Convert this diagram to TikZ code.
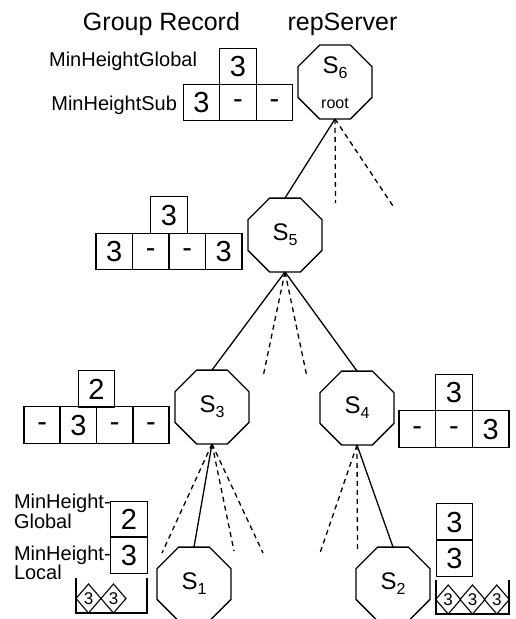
\documentclass[tikz,border=0pt]{standalone}
\usepackage{fontspec}
\setmainfont{Liberation Sans}
\usetikzlibrary{shapes.geometric}

\newcommand\fsz[1]{\fontsize{#1}{#1}\selectfont}
\newcommand\srvname[1]{S\raisebox{-5pt}{\fsz{16}#1}}
% an empty entry of a record: a dash lifted to mid-cell
\newcommand\nil{\raisebox{4.3pt}{-}}

\begin{document}
\begin{tikzpicture}[x=1pt,y=-1pt,
  every node/.style={inner sep=0pt, outer sep=0pt},
  title/.style={font=\fsz{25}, anchor=base},
  lbl/.style={font=\fsz{20}},
  cell/.style={draw, line width=1.4pt, minimum width=36.5pt, minimum height=36.5pt,
               font=\fsz{29}, text height=20.8pt, text depth=0pt},
  server/.style={draw, line width=1.4pt, regular polygon, regular polygon sides=8,
                 minimum size=80pt, font=\fsz{24}},
  token/.style={draw, diamond, line width=1.1pt, minimum width=25pt, minimum height=29pt,
                font=\fsz{17}},
  link/.style={line width=1.3pt},
  hint/.style={line width=1.3pt, dash pattern=on 5pt off 4pt},
  wall/.style={line width=1.4pt}
]
\useasboundingbox (0,0) rectangle (515,619);

% headings
\node[title] (hrec) at (161.5,30) {Group Record};
\node[title] (hsrv) at (342.5,30) {repServer};

% ---- servers ----
\node[server] (s6) at (335,82) {};
\node[font=\fsz{24}] (s6name) at (335,68) {\srvname{6}};
\node[font=\fsz{16}] (s6root) at (335,103) {root};
\node[server] (s5) at (285,235) {\srvname{5}};
\node[server] (s3) at (212,407) {\srvname{3}};
\node[server] (s4) at (357,408) {\srvname{4}};
\node[server] (s1) at (194,584) {\srvname{1}};
\node[server] (s2) at (393,584) {\srvname{2}};

% ---- tree links ----
\draw[link] (s6.south) -- (s5.north);
\draw[link] (s5.south) -- (s3.north);
\draw[link] (s5.south) -- (s4.north);
\draw[link] (s3.south) -- (s1.north);
\draw[link] (s4.south) -- (s2.north);

% other children, not drawn
\coordinate (d6a) at (335.5,203);
\coordinate (d6b) at (393,206);
\coordinate (d5a) at (263,377);
\coordinate (d5b) at (307,377);
\coordinate (d3a) at (162,553);
\coordinate (d3b) at (234,551);
\coordinate (d3c) at (263,553);
\coordinate (d4a) at (320,553);
\coordinate (d4b) at (357.5,551);
\draw[hint] (s6.south) -- (d6a);
\draw[hint] (s6.south) -- (d6b);
\draw[hint] (s5.south) -- (d5a);
\draw[hint] (s5.south) -- (d5b);
\draw[hint] (s3.south) -- (d3a);
\draw[hint] (s3.south) -- (d3b);
\draw[hint] (s3.south) -- (d3c);
\draw[hint] (s4.south) -- (d4a);
\draw[hint] (s4.south) -- (d4b);

% ---- group record of S6 ----
\node[cell] (g6t) at (238,66.5) {3};
\node[cell] (g6a) at (201.5,102.5) {3};
\node[cell] (g6b) at (238,102.5) {\nil};
\node[cell] (g6c) at (274.5,102.5) {\nil};
\node[lbl, anchor=base east] (l6g) at (197,66) {MinHeightGlobal};
\node[lbl, anchor=base east] (l6s) at (177,110) {MinHeightSub};

% ---- group record of S5 ----
\node[cell] (g5t) at (169,215) {3};
\node[cell] (g5a) at (114.25,251.5) {3};
\node[cell] (g5b) at (150.75,251.5) {\nil};
\node[cell] (g5c) at (187.25,251.5) {\nil};
\node[cell] (g5d) at (223.75,251.5) {3};

% ---- group record of S3 ----
\node[cell] (g3t) at (96.5,389) {2};
\node[cell] (g3a) at (42.1,425) {\nil};
\node[cell] (g3b) at (78.4,425) {3};
\node[cell] (g3c) at (114.6,425) {\nil};
\node[cell] (g3d) at (150.9,425) {\nil};

% ---- group record of S4 ----
\node[cell] (g4t) at (454,392.5) {3};
\node[cell] (g4a) at (417.3,429) {\nil};
\node[cell] (g4b) at (454,429) {\nil};
\node[cell] (g4c) at (490.7,429) {3};

% ---- leaf S1 ----
\node[cell] (g1g) at (129,519.5) {2};
\node[cell] (g1l) at (129,555) {3};
\node[lbl, anchor=base west] (l1a) at (14,508) {MinHeight-};
\node[lbl, anchor=base west] (l1b) at (14,528) {Global};
\node[lbl, anchor=base west] (l1c) at (14,560) {MinHeight-};
\node[lbl, anchor=base west] (l1d) at (14,579) {Local};
\coordinate (b1a) at (76,578);
\coordinate (b1b) at (76,613);
\coordinate (b1c) at (147,613);
\coordinate (b1d) at (147,578);
\draw[wall] (b1a) -- (b1b) -- (b1c) -- (b1d);
\node[token] (t1a) at (88.5,598.5) {3};
\node[token] (t1b) at (113.5,598.5) {3};

% ---- leaf S2 ----
\node[cell] (g2g) at (454.5,522) {3};
\node[cell] (g2l) at (454.5,558) {3};
\coordinate (b2a) at (436,580);
\coordinate (b2b) at (436,614);
\coordinate (b2c) at (509,614);
\coordinate (b2d) at (509,580);
\draw[wall] (b2a) -- (b2b) -- (b2c) -- (b2d);
\node[token] (t2a) at (448.2,599.5) {3};
\node[token] (t2b) at (472.5,599.5) {3};
\node[token] (t2c) at (496.8,599.5) {3};
\end{tikzpicture}
\end{document}
